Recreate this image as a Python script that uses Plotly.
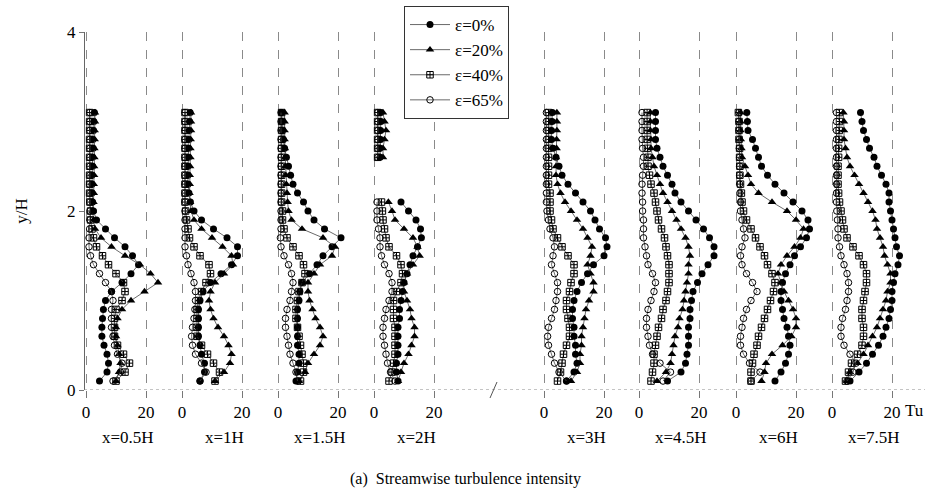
import plotly.graph_objects as go

# ---------------- data ----------------
Y_LEVELS = [0.1, 0.2, 0.3, 0.4, 0.5, 0.6, 0.7, 0.8, 0.9, 1.0,
            1.1, 1.2, 1.3, 1.4, 1.5, 1.6, 1.7, 1.8, 1.9, 2.0,
            2.1, 2.2, 2.3, 2.4, 2.5, 2.6, 2.7, 2.8, 2.9, 3.0, 3.1]

PANEL_LABELS = ["x=0.5H", "x=1H", "x=1.5H", "x=2H", "x=3H", "x=4.5H", "x=6H", "x=7.5H"]
SERIES_LABELS = ["ε=0%", "ε=20%", "ε=40%", "ε=65%"]
X_TICK_VALS = [0, 20]
X_TICK_TEXT = ["0", "20"]
Y_TICK_VALS = [0, 2, 4]

P1_E0 = [4.5, 7.0, 7.5, 7.0, 6.0, 5.3, 5.3, 5.5, 5.8, 6.5, 8.5, 12.0, 15.0, 17.5, 15.5, 13.0, 9.5, 6.5, 3.5, 2.5, 2.2, 2.0, 2.0, 2.0, 2.2, 2.2, 2.4, 2.3, 2.5, 2.6, 2.8]
P1_E20 = [10, 11, 11.5, 11, 10.5, 10, 10, 10.5, 12, 15, 19.5, 24, 21.5, 18, 13, 8.5, 5, 3, 2.5, 2.2, 2.5, 2.6, 2.6, 2.7, 2.7, 2.8, 2.8, 2.9, 2.9, 3.0, 3.0]
P1_E40 = [10, 13, 14.5, 12.5, 10.5, 9.5, 9.5, 9.5, 10, 12, 13, 12.5, 10, 7.5, 5.5, 3.5, 2.5, 2, 1.5, 1.5, 1.3, 1.2, 1.2, 1.2, 1.2, 1.2, 1.2, 1.2, 1.2, 1.2, 1.2]
P1_E65 = [9, 11.5, 12, 10.5, 9.5, 9, 8.5, 8.5, 8.5, 9, 8.5, 6.5, 4.5, 2.5, 1.5, 1, 1, 1.2, 1.3, 1.3, 1.3, 1.3, 1.2, 1.3, 1.3, 1.3, 1.3, 1.3, 1.3, 1.3, 1.3]

P2_E0 = [6, 7.5, 7.5, 6.5, 6, 5.5, 5.5, 5.5, 5.5, 6, 7, 9.5, 13, 16.5, 18.5, 18.5, 15, 10.5, 6.5, 4, 2.8, 2.3, 2.0, 2.0, 2.0, 2.2, 2.2, 2.3, 2.4, 2.5, 2.7]
P2_E20 = [11, 14, 16, 16.5, 15.5, 14, 12, 10.5, 9.5, 9, 9.5, 11, 14, 17, 16.5, 13.5, 10, 6.5, 4, 3, 2.7, 2.5, 2.6, 2.6, 2.7, 2.8, 2.8, 2.9, 3.0, 3.0, 3.0]
P2_E40 = [11, 12.5, 10.5, 8.5, 6.5, 5, 5, 5, 5, 5.5, 6.5, 8, 9.5, 9, 6, 4, 2.5, 2, 1.5, 1.2, 1.0, 1.0, 1.0, 1.0, 1.0, 1.0, 1.0, 1.0, 1.0, 1.0, 1.0]
P2_E65 = [6, 8, 6.5, 4.5, 3.5, 3.2, 3.5, 4, 4.3, 4.5, 4.5, 4, 3, 2, 1.5, 1, 1, 1, 1, 1, 1, 1, 1, 1, 1, 1, 1, 1, 1, 1, 1]

P3_E0 = [6, 6.5, 7, 7, 6.5, 6.5, 6.5, 6.5, 6.5, 7, 7.3, 8, 10.5, 13, 15, 18, 21, 15.5, 12, 10, 8.5, 6.5, 5, 4.2, 3.5, 2.8, 2.2, 1.8, 1.5, 1.3, 1.2]
P3_E20 = [7, 9, 10, 12, 14, 15, 14, 12.5, 11.5, 10.5, 10, 10, 12, 14, 18, 19, 15, 8, 4.5, 3.5, 3.2, 3, 2.8, 2.6, 2.5, 2.4, 2.3, 2.2, 2.2, 2.2, 2.2]
P3_E40 = [7.5, 8.5, 8.5, 8, 7.5, 7, 6.5, 6, 6, 6.5, 7, 8, 9, 8.5, 7, 5, 3, 2, 1.5, 1.5, 1.2, 1.2, 1.2, 1.2, 1.2, 1.2, 1.2, 1.2, 1.2, 1.2, 1.2]
P3_E65 = [6.5, 6, 5, 4, 3.5, 3, 2.5, 2.5, 3, 4, 4.5, 5, 4.5, 3.5, 2, 1, 0.8, 1, 1, 1, 1, 1, 1, 1, 1, 1, 1, 1, 1, 1, 1]

P4_E0 = [8, 7.5, 7.5, 8, 8, 8, 8, 8.5, 8.5, 9, 9.5, 10, 11, 12, 13, 14.5, 15.8, 15.5, 14, 11.5, 9, None, None, None, None, 2, 2, 2.2, 2.2, 2.3, 2.3]
P4_E20 = [8, 9, 10, 11.5, 12.5, 13.5, 13.5, 12.5, 12, 11, 10, 10, 11, 13, 15.2, 14.5, 13, 10, 7, 6, 4.8, None, None, None, None, 3, 3, 3.5, 4, 3.5, 3]
P4_E40 = [5, 6, 6.5, 7, 7, 7, 7, 6.5, 6.5, 6.5, 7.5, 9, 9.5, 9, 7.5, 5, 4, 3.5, 3, 2.8, 2.5, None, None, None, None, 1.2, 1.2, 1.2, 1.2, 1.2, 1.2]
P4_E65 = [7, 5.5, 4.5, 4, 3.5, 3, 3, 3.5, 4, 5, 6, 6, 5, 3.5, 2.5, 2, 2, 1.5, 1, 1, 1, None, None, None, None, 1.3, 1.3, 1.3, 1.3, 1.3, 1.3]

P5_E0 = [7.5, 10, 11, 10.5, 10.5, 10, 10, 9.5, 9.5, 10, 11, 12.5, 14.5, 16.5, 20, 21, 20.5, 18.5, 17, 15.5, 13, 10.5, 8, 6, 5, 4, 3, 2.5, 2.5, 2.7, 2.8]
P5_E20 = [9, 11, 12, 12, 12.5, 12.5, 13, 13.5, 14, 15, 16.5, 16.5, 15.5, 14.5, 15.5, 16, 14.5, 13, 11, 9, 7, 5.5, 4.5, 4, 4, 4, 4.2, 4.2, 4.3, 4.3, 4.3]
P5_E40 = [4.5, 5.5, 6, 6.5, 7.5, 8.5, 8.5, 8, 7.5, 7.5, 8.5, 9, 10, 10, 8, 6, 4.5, 3, 2.5, 2, 2, 2, 1.5, 1.5, 1.5, 1.5, 1.5, 1.5, 1.5, 1.5, 1.5]
P5_E65 = [7.5, 5, 3.5, 2.5, 1.5, 1.2, 1.5, 2.5, 3.5, 4, 4.5, 4.5, 3.5, 2.5, 3, 3.5, 3, 2, 1.5, 1, 0.8, 0.8, 0.8, 0.8, 0.8, 0.8, 0.8, 0.8, 0.8, 0.8, 0.8]

P6_E0 = [9.5, 14, 15.5, 16, 16.5, 16.5, 16.5, 17, 17, 17.5, 18, 19.5, 21, 23, 25, 25, 23.5, 21.5, 19, 16.5, 14, 12, 11, 9.5, 8, 7, 6, 5.5, 5.5, 5.5, 5.5]
P6_E20 = [6, 9, 10.5, 11, 11.5, 12, 13, 13.5, 14.5, 15, 15.5, 16, 16.5, 16.5, 17, 16.5, 15.5, 14, 12.5, 11, 9.5, 8, 7, 6, 5, 4.5, 4, 4, 3.8, 3.8, 3.8]
P6_E40 = [4, 4.5, 5, 5, 5.5, 6, 6.5, 7.5, 8, 9, 9.5, 10, 10, 10, 9.5, 9, 8.5, 7.5, 6.5, 6, 5.5, 5, 4, 3.5, 3, 3, 2.8, 2.7, 2.7, 2.7, 2.7]
P6_E65 = [8, 10.5, 7, 4.5, 3.5, 3, 2.5, 2.5, 3, 4, 5, 5.5, 4.5, 3, 2.5, 2, 1.5, 1.5, 1.5, 1.2, 1.2, 1, 1, 1.2, 1.5, 1.5, 1.2, 1, 1, 1, 1]

P7_E0 = [13, 15, 16.5, 17.5, 18, 17.5, 17, 16, 15.5, 15, 15, 15.5, 16.5, 18, 19.5, 21.5, 23.5, 24.5, 24, 22, 19, 16, 13, 10.5, 8.5, 7.5, 6.5, 5.5, 4, 3.8, 3.6]
P7_E20 = [8.5, 9.5, 10, 12, 15.5, 18.5, 20, 20, 19, 17.5, 16, 15, 14, 15, 17, 19.5, 21.5, 22.5, 20, 17, 12, 7.5, 5, 4, 3, 2, 1.8, 1.6, 1.5, 1.5, 1.5]
P7_E40 = [5, 5, 5.5, 6, 7, 7.5, 8.5, 9.5, 10.5, 11.5, 12.5, 13, 12, 10.5, 9.5, 8, 6.5, 5, 3.5, 2.5, 2, 1.8, 1.5, 1.3, 1.3, 1.2, 1.2, 1, 1, 1, 0.8]
P7_E65 = [5, 8, 4.5, 2.5, 1.5, 1.5, 2, 2.5, 3.5, 5, 7, 5.5, 3.5, 2, 1.5, 2, 3, 2.5, 2, 1.5, 1.5, 1.3, 1.2, 1.2, 1.2, 1.2, 1.1, 1.1, 1, 1, 1]

P8_E0 = [6, 9, 11.5, 13.5, 15.5, 17, 18, 19, 19.5, 20, 20, 20.5, 21, 22, 22.5, 21.5, 21, 20.5, 20, 19.5, 19, 19, 18, 16.5, 15, 14, 12.5, 11.5, 10.5, 10, 9.5]
P8_E20 = [5, 6, 8.5, 10.5, 12, 13.5, 15, 16, 17, 18, 18.5, 19.5, 19.5, 18.5, 17.5, 17, 16, 15, 14.5, 13.5, 12, 10.5, 9, 7.5, 6, 5, 4.5, 4, 4, 4, 3.8]
P8_E40 = [4.5, 5.5, 6.5, 8.5, 10, 10.5, 10.5, 10, 10, 10.5, 11, 11.5, 11.5, 10.5, 9, 7, 5, 4, 3.5, 3, 2.5, 2.2, 2, 2, 2, 2.2, 2.2, 2.3, 2.4, 2.5, 2.5]
P8_E65 = [5, 7, 8, 6, 4, 3, 3, 3.5, 4.5, 5, 5.5, 5.5, 5, 4, 3, 2.5, 2, 2, 1.8, 1.6, 1.5, 1.5, 1.5, 1.5, 1.5, 1.5, 1.5, 1.5, 1.5, 1.5, 1.5]

PANELS = [
    [P1_E0, P1_E20, P1_E40, P1_E65],
    [P2_E0, P2_E20, P2_E40, P2_E65],
    [P3_E0, P3_E20, P3_E40, P3_E65],
    [P4_E0, P4_E20, P4_E40, P4_E65],
    [P5_E0, P5_E20, P5_E40, P5_E65],
    [P6_E0, P6_E20, P6_E40, P6_E65],
    [P7_E0, P7_E20, P7_E40, P7_E65],
    [P8_E0, P8_E20, P8_E40, P8_E65],
]

# ---------------- styling / layout ----------------
FONT = "Liberation Serif, Times New Roman, serif"
W, H = 933, 495
ML, MR, MT, MB = 60, 8, 32, 105
PW = W - ML - MR
PH = H - MT - MB
P0_PX = [86, 182, 278, 374, 544, 639, 736, 832]   # pixel of Tu=0 for each panel
PX_PER_UNIT = 3.0
X_RANGE = [-4, 28]

MARKERS = [
    dict(symbol="circle", size=7, color="black"),
    dict(symbol="triangle-up", size=7.5, color="black"),
    dict(symbol="square-cross-open", size=6.5, color="black", line=dict(width=1, color="#222")),
    dict(symbol="circle-open", size=6.5, color="black", line=dict(width=1, color="#222")),
]

fig = go.Figure()
layout = {}
for k, series in enumerate(PANELS):
    ax = "x" if k == 0 else f"x{k + 1}"
    lname = "xaxis" if k == 0 else f"xaxis{k + 1}"
    p0 = P0_PX[k]
    left_px = p0 + X_RANGE[0] * PX_PER_UNIT
    right_px = p0 + X_RANGE[1] * PX_PER_UNIT
    layout[lname] = dict(
        domain=[(left_px - ML) / PW, min(1.0, (right_px - ML) / PW)],
        range=X_RANGE, anchor="y",
        tickvals=X_TICK_VALS, ticktext=X_TICK_TEXT,
        ticks="outside", ticklen=7, tickcolor="#777", tickwidth=1,
        showgrid=True, gridcolor="#8a8a8a", griddash="dash", gridwidth=1,
        zeroline=False, showline=False,
        tickfont=dict(family=FONT, size=17, color="black"),
    )
    for s, vals in enumerate(series):
        fig.add_trace(go.Scatter(
            x=vals, y=Y_LEVELS, xaxis=ax, yaxis="y",
            mode="lines+markers", name=SERIES_LABELS[s],
            legendgroup=SERIES_LABELS[s], showlegend=(k == 0),
            line=dict(color="#444", width=0.8),
            marker=MARKERS[s], connectgaps=False,
        ))
    fig.add_annotation(
        text=PANEL_LABELS[k], xref=ax, x=14, yref="paper",
        y=-(437 - (MT + PH)) / PH, showarrow=False, yanchor="middle",
        font=dict(family=FONT, size=17, color="black"),
    )

layout["yaxis"] = dict(
    domain=[0, 1], range=[0, 4], anchor="free", position=(84 - ML) / PW,
    tickvals=Y_TICK_VALS, ticks="outside", ticklen=5, tickcolor="#777",
    showline=True, linecolor="#666", linewidth=1,
    showgrid=False, zeroline=False,
    tickfont=dict(family=FONT, size=17, color="black"),
    title=dict(text="y/H", font=dict(family=FONT, size=17, color="black"), standoff=34),
)

fig.update_layout(
    width=W, height=H,
    margin=dict(l=ML, r=MR, t=MT, b=MB, autoexpand=False),
    paper_bgcolor="white", plot_bgcolor="white",
    font=dict(family=FONT, color="black"),
    legend=dict(
        x=(404 - ML) / PW, y=1 + (MT - 6) / PH, xanchor="left", yanchor="top",
        bgcolor="white", bordercolor="#333", borderwidth=1,
        font=dict(family=FONT, size=17, color="black"),
        itemwidth=40, tracegroupgap=0,
    ),
    **layout,
)

# x-axis baseline (dotted) and axis break mark
fig.add_shape(type="line", xref="paper", yref="y",
              x0=(84 - ML) / PW, x1=1.0, y0=0, y1=0,
              line=dict(color="#888", width=1, dash="dot"))
fig.add_shape(type="line", xref="paper", yref="paper",
              x0=(490 - ML) / PW, x1=(497 - ML) / PW,
              y0=-(398 - (MT + PH)) / PH, y1=-(382 - (MT + PH)) / PH,
              line=dict(color="#555", width=1))

fig.add_annotation(text="Tu", xref="x8", x=23.7, yref="paper",
                   y=-(410 - (MT + PH)) / PH, xanchor="left", yanchor="middle",
                   showarrow=False, font=dict(family=FONT, size=17, color="black"))
fig.add_annotation(text="(a)  Streamwise turbulence intensity", xref="paper",
                   x=(465 - ML) / PW, yref="paper", y=-(479 - (MT + PH)) / PH,
                   yanchor="middle", showarrow=False,
                   font=dict(family=FONT, size=16, color="black"))

fig.write_html("out.html", config={"displayModeBar": False},
               post_script="document.body.style.margin='0';")
